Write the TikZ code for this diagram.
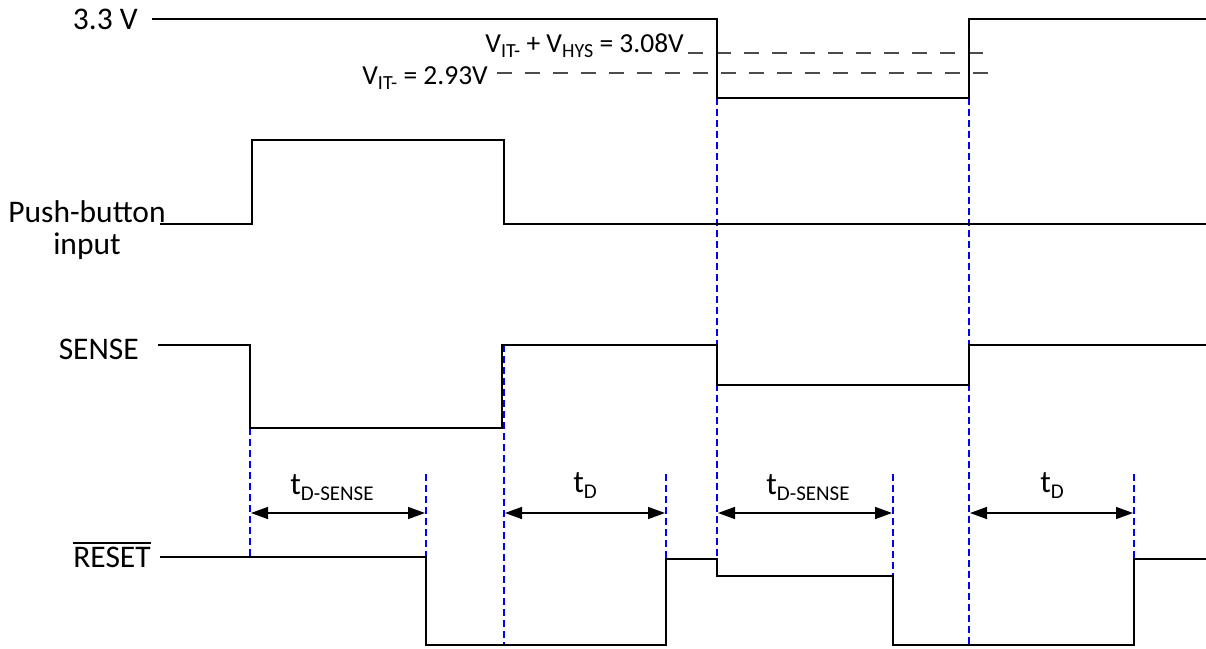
\documentclass[tikz,border=0pt]{standalone}
\usepackage{fontspec}
\setmainfont{Carlito}
\usetikzlibrary{arrows.meta}
\newcommand{\mysubs}[2]{\raisebox{-#2}{\fontsize{21}{21}\selectfont #1}}
\newcommand{\mysubv}[1]{\raisebox{-5pt}{\fontsize{20}{20}\selectfont #1}}
\newcommand{\myovl}[1]{\leavevmode\vbox{\hrule height 1.6pt \kern 2.5pt \hbox{#1}}}
\begin{document}
\begin{tikzpicture}[x=1pt,y=-1pt,
  sig/.style={line width=2pt,line join=miter},
  guide/.style={blue,line width=1.2pt,dash pattern=on 7pt off 4pt},
  thr/.style={black!70,line width=1.3pt,dash pattern=on 15pt off 13pt},
  dim/.style={line width=1.5pt,{Triangle[length=17pt,width=12pt]}-{Triangle[length=17pt,width=12pt]}},
  lbl/.style={font=\fontsize{31.5}{32}\selectfont,inner sep=0pt},
  vlbl/.style={font=\fontsize{27.5}{28}\selectfont,inner sep=0pt}]
\useasboundingbox (0,0) rectangle (1206,648);
% labels
\node[lbl,anchor=east] (l33) at (138,19) {3.3 V};
\node[lbl,align=center] (lpb) at (87,230) {Push-button\\input};
\node[lbl,anchor=east] (lsense) at (139,349) {SENSE};
\node[lbl,anchor=base] (lreset) at (112,567) {\myovl{RESET}};
\node[vlbl,anchor=east] (lhys) at (684,46) {V\mysubv{IT-} + V\mysubv{HYS} = 3.08V};
\node[vlbl,anchor=east] (lit) at (488,78) {V\mysubv{IT-} = 2.93V};
% threshold lines
\draw[thr] (688,53) -- (995,53);
\draw[thr] (497,73) -- (995,73);
% blue guides
\draw[guide] (250,428) -- (250,556);
\draw[guide] (426,474) -- (426,556);
\draw[guide] (504,345) -- (504,645);
\draw[guide] (666,474) -- (666,559);
\draw[guide] (717,98) -- (717,576);
\draw[guide] (893,474) -- (893,645);
\draw[guide] (969,98) -- (969,645);
\draw[guide] (1134,474) -- (1134,559);
% signals
\draw[sig] (152,19) -- (717,19) -- (717,98) -- (969,98) -- (969,19) -- (1206,19);
\draw[sig] (160,224) -- (252,224) -- (252,140) -- (504,140) -- (504,224) -- (1206,224);
\draw[sig] (158,345) -- (250,345) -- (250,428) -- (502,428) -- (502,345) -- (717,345) -- (717,385) -- (969,385) -- (969,345) -- (1206,345);
\draw[sig] (160,557) -- (426,557) -- (426,645) -- (666,645) -- (666,559) -- (717,559) -- (717,576) -- (893,576) -- (893,645) -- (1134,645) -- (1134,559) -- (1206,559);
% dimension arrows
\coordinate (a1) at (251,513); \coordinate (b1) at (425,513);
\coordinate (a2) at (505,513); \coordinate (b2) at (665,513);
\coordinate (a3) at (718,513); \coordinate (b3) at (892,513);
\coordinate (a4) at (970,513); \coordinate (b4) at (1133,513);
\draw[dim] (a1) -- (b1);
\draw[dim] (a2) -- (b2);
\draw[dim] (a3) -- (b3);
\draw[dim] (a4) -- (b4);
\node[lbl] (t1) at (332,488) {t\mysubs{D-SENSE}{6pt}};
\node[lbl] (t2) at (585,486) {t\mysubs{D}{6pt}};
\node[lbl] (t3) at (808,488) {t\mysubs{D-SENSE}{6pt}};
\node[lbl] (t4) at (1052,486) {t\mysubs{D}{6pt}};
\end{tikzpicture}
\end{document}
